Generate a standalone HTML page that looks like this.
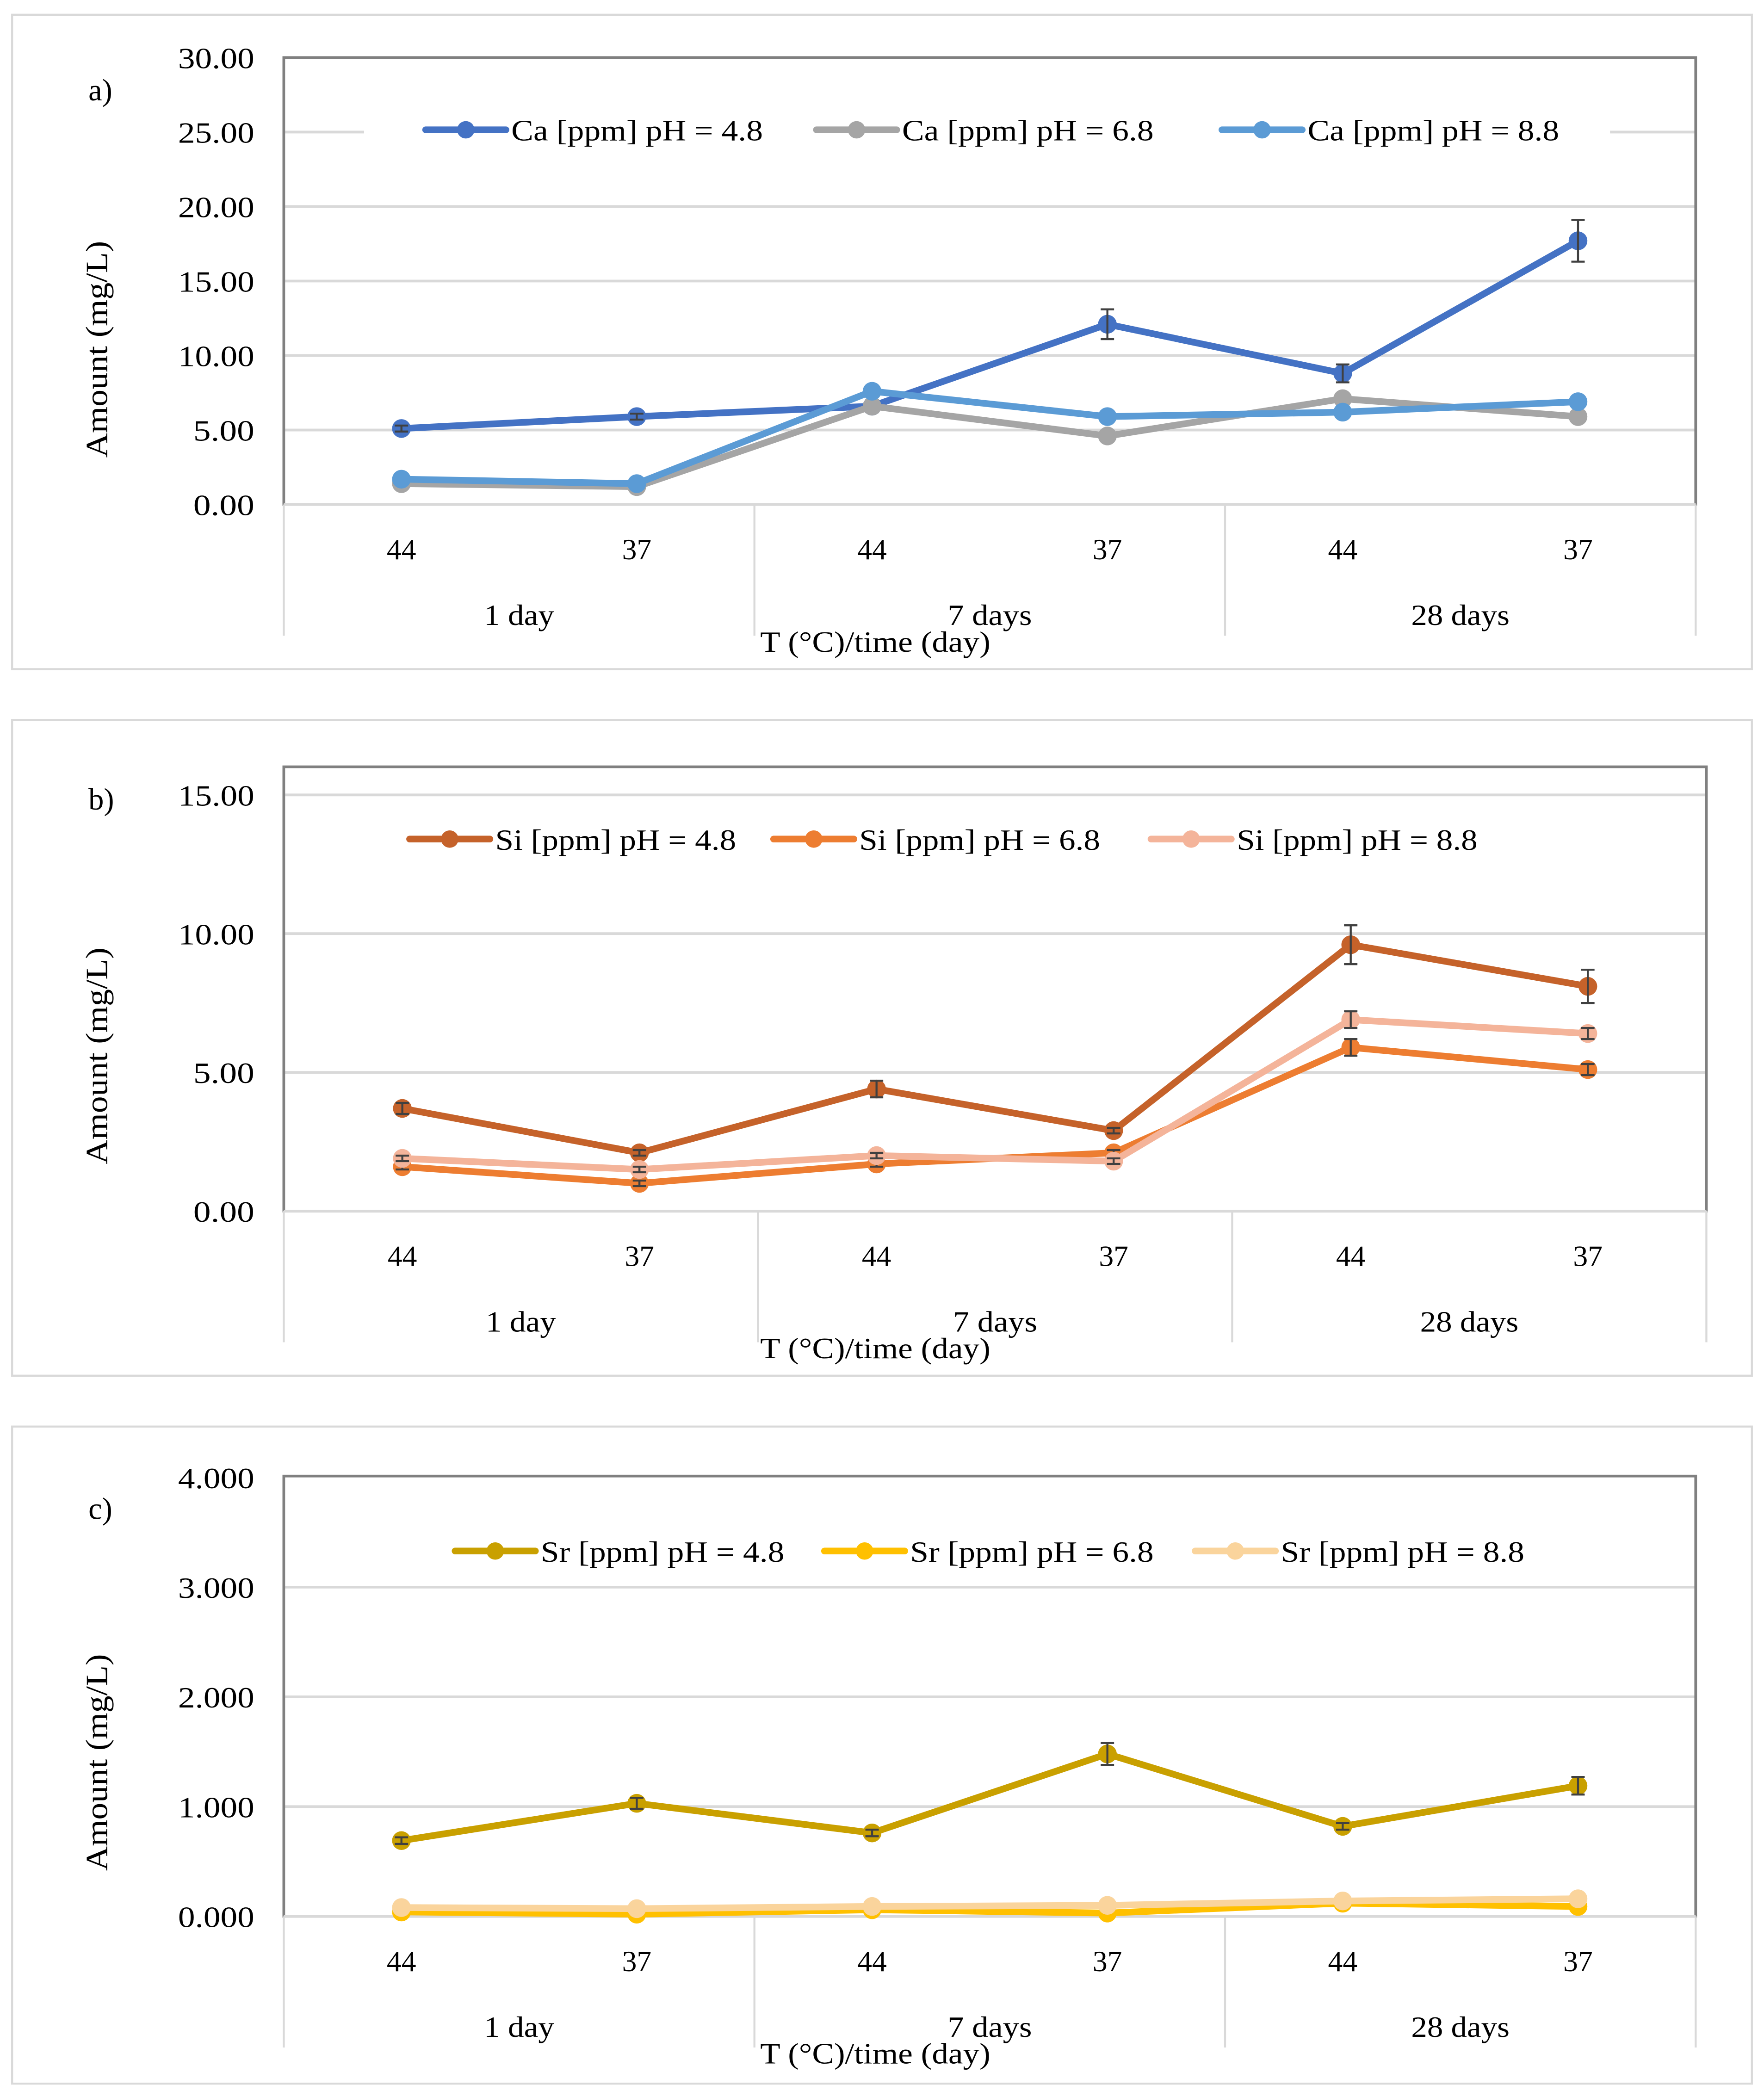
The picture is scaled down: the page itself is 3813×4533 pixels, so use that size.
<!DOCTYPE html>
<html><head><meta charset="utf-8"><style>
html,body{margin:0;padding:0;background:#fff;}
svg{display:block;font-family:"Liberation Serif",serif;}
</style></head><body>
<svg id="chart" width="3813" height="4533" viewBox="0 0 1318 1567" xmlns="http://www.w3.org/2000/svg"></svg>
<script>
const categories = ["44","37","44","37","44","37"];
const groups = ["1 day","7 days","28 days"];
const caLabels = ["Ca [ppm] pH = 4.8","Ca [ppm] pH = 6.8","Ca [ppm] pH = 8.8"];
const ca48 = [5.1,5.9,6.6,12.1,8.8,17.7];
const ca48err = [0.2,0.2,0.4,1.0,0.6,1.4];
const ca68 = [1.4,1.2,6.6,4.6,7.1,5.9];
const ca88 = [1.7,1.4,7.6,5.9,6.2,6.9];
const caTicks = ["0.00","5.00","10.00","15.00","20.00","25.00","30.00"];
const siLabels = ["Si [ppm] pH = 4.8","Si [ppm] pH = 6.8","Si [ppm] pH = 8.8"];
const si48 = [3.7,2.1,4.4,2.9,9.6,8.1];
const si48err = [0.2,0.1,0.3,0.1,0.7,0.6];
const si68 = [1.6,1.0,1.7,2.1,5.9,5.1];
const si68err = [0.1,0.1,0.1,0.1,0.3,0.2];
const si88 = [1.9,1.5,2.0,1.8,6.9,6.4];
const si88err = [0.1,0.1,0.1,0.1,0.3,0.2];
const siTicks = ["0.00","5.00","10.00","15.00"];
const srLabels = ["Sr [ppm] pH = 4.8","Sr [ppm] pH = 6.8","Sr [ppm] pH = 8.8"];
const sr48 = [0.69,1.03,0.76,1.48,0.82,1.19];
const sr48err = [0.03,0.05,0.03,0.1,0.03,0.08];
const sr68 = [0.04,0.02,0.06,0.03,0.12,0.09];
const sr88 = [0.08,0.07,0.09,0.10,0.14,0.16];
const srTicks = ["0.000","1.000","2.000","3.000","4.000"];

const NS="http://www.w3.org/2000/svg";
const svg=document.getElementById('chart');
function mk(tag,attrs,parent,text){const e=document.createElementNS(NS,tag);for(const k in attrs)e.setAttribute(k,attrs[k]);if(text!==undefined)e.textContent=text;(parent||svg).appendChild(e);return e;}

function panel(cfg){
  const g=mk('g',{});
  
  
  const b=mk('rect',{x:cfg.box[0],y:cfg.box[1],width:cfg.box[2]-cfg.box[0],height:cfg.box[3]-cfg.box[1],fill:'#fff',stroke:'#d9d9d9','stroke-width':1.5},g);
  
  
  const L=cfg.left,R=cfg.right,T=cfg.top,B=cfg.bottom;
  const y=v=>B-(v/cfg.ymax)*(B-cfg.y0top);
  const step=(R-L)/6;
  const x=i=>L+step*(i+0.5);
  cfg.ticks.forEach((t)=>{
    const v=parseFloat(t);
    if(v>0&&y(v)>T+2){const gl=mk('line',{x1:L,x2:R,y1:y(v),y2:y(v),stroke:'#d9d9d9','stroke-width':2},g);
      
      }
    const tl=mk('text',{x:L-22,y:y(v)+8,'text-anchor':'end','font-size':22,textLength:t.length*11.4,lengthAdjust:'spacingAndGlyphs',fill:'#000'},g,t);
    
    
  });
  const pb=mk('rect',{x:L,y:T,width:R-L,height:B-T,fill:'none',stroke:'#808080','stroke-width':2},g);
  
  
  const xa=mk('line',{x1:L,x2:R,y1:B,y2:B,stroke:'#d9d9d9','stroke-width':2},g);
  
  
  for(let k=0;k<=3;k++){const sx=L+step*2*k;
    const sl=mk('line',{x1:sx,x2:sx,y1:B,y2:B+98,stroke:'#d9d9d9','stroke-width':1.5},g);
    
    }
  categories.forEach((c,i)=>{const t=mk('text',{x:x(i),y:B+41,'text-anchor':'middle','font-size':22},g,c);
    
    });
  groups.forEach((c,i)=>{const t=mk('text',{x:L+step*(2*i+1),y:B+90,'text-anchor':'middle','font-size':22,textLength:c.length*10.5,lengthAdjust:'spacingAndGlyphs'},g,c);
    
    });
  const xt=mk('text',{x:654,y:B+110,'text-anchor':'middle','font-size':22,textLength:172,lengthAdjust:'spacingAndGlyphs'},g,'T (°C)/time (day)');
  
  
  const yc=cfg.ytitleY;
  const yt=mk('text',{x:80,y:yc,'text-anchor':'middle','font-size':23,textLength:162,lengthAdjust:'spacingAndGlyphs',transform:`rotate(-90 80 ${yc})`},g,'Amount (mg/L)');
  
  
  const pl=mk('text',{x:66,y:T+32,'font-size':23},g,cfg.letter);
  
  
  const lb=mk('rect',{x:cfg.legBg[0],y:cfg.legY-16,width:cfg.legBg[1]-cfg.legBg[0],height:32,fill:'#fff'},g);
  
  
  cfg.series.forEach((s,si)=>{
    const lx=cfg.legX[si];
    const le=mk('g',{},g);
    
    
    mk('line',{x1:lx,x2:lx+60,y1:cfg.legY,y2:cfg.legY,stroke:s.color,'stroke-width':5,'stroke-linecap':'round'},le);
    mk('circle',{cx:lx+30,cy:cfg.legY,r:6.5,fill:s.color},le);
    mk('text',{x:lx+64,y:cfg.legY+8,'font-size':22,textLength:cfg.legW,lengthAdjust:'spacingAndGlyphs'},le,cfg.labels[si]);
  });
  cfg.series.forEach((s,si)=>{
    const sg=mk('g',{},g);
    
    
    const pts=s.data.map((v,i)=>x(i)+','+y(v)).join(' ');
    const ln=mk('polyline',{points:pts,fill:'none',stroke:s.color,'stroke-width':5,'stroke-linejoin':'round'},sg);
    
    
    s.data.forEach((v,i)=>{
      const c=mk('circle',{cx:x(i),cy:y(v),r:7,fill:s.color},sg);
      
      
    });
    if(s.err){s.data.forEach((v,i)=>{
      const e=s.err[i];if(!e)return;
      const eg=mk('g',{stroke:'#404040','stroke-width':1.5},sg);
      
      
      mk('line',{x1:x(i),x2:x(i),y1:y(v-e),y2:y(v+e)},eg);
      mk('line',{x1:x(i)-5,x2:x(i)+5,y1:y(v-e),y2:y(v-e)},eg);
      mk('line',{x1:x(i)-5,x2:x(i)+5,y1:y(v+e),y2:y(v+e)},eg);
    });}
  });
}

panel({name:'panel-a-calcium',letter:'a)',box:[9,11,1309,500],left:212,right:1267,top:43,bottom:377,y0top:43,ymax:30,ytitleY:261,legW:188,
  ticks:caTicks,labels:caLabels,legY:97,legX:[318,610,913],legBg:[272,1203],
  series:[{data:ca48,err:ca48err,color:'#4472C4'},{data:ca68,color:'#A5A5A5'},{data:ca88,color:'#5B9BD5'}]});
panel({name:'panel-b-silicon',letter:'b)',box:[9,538,1309,1028],left:212,right:1275,top:573,bottom:905,y0top:594,ymax:15,ytitleY:789,legW:180,
  ticks:siTicks,labels:siLabels,legY:627,legX:[306,578,860],legBg:[270,1240],
  series:[{data:si48,err:si48err,color:'#C5622A'},{data:si68,err:si68err,color:'#ED7D31'},{data:si88,err:si88err,color:'#F4B49A'}]});
panel({name:'panel-c-strontium',letter:'c)',box:[9,1066,1309,1557],left:212,right:1267,top:1103,bottom:1432,y0top:1104,ymax:4,ytitleY:1317,legW:182,
  ticks:srTicks,labels:srLabels,legY:1159,legX:[340,616,893],legBg:[305,1165],
  series:[{data:sr48,err:sr48err,color:'#C9A000'},{data:sr68,color:'#FFC000'},{data:sr88,color:'#FAD49C'}]});
</script>
</body></html>
